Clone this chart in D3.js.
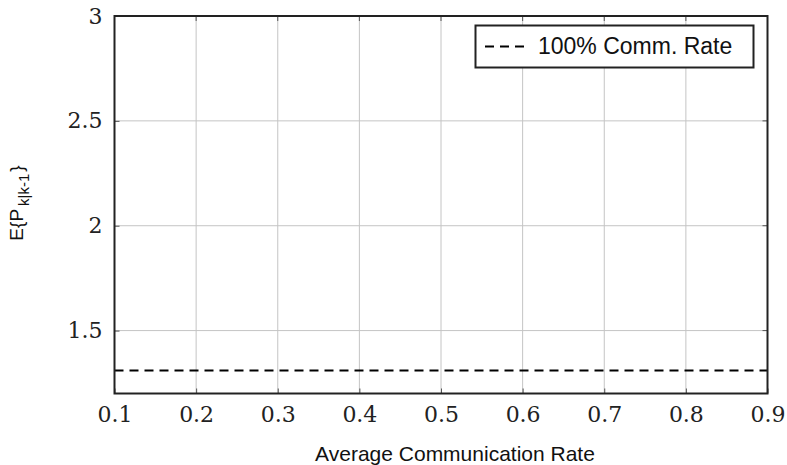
<!DOCTYPE html>
<html>
<head>
<meta charset="utf-8">
<script src="https://cdn.jsdelivr.net/npm/d3@7"></script>
<style>
  body { margin: 0; background: #fff; }
  .tick text { font-family: "DejaVu Serif", serif; }
</style>
</head>
<body>
<div id="chart"></div>
<script>
// data
const rates = [0.1, 0.9];
const fullCommValue = [1.31, 1.31];
const xTicks = [0.1, 0.2, 0.3, 0.4, 0.5, 0.6, 0.7, 0.8, 0.9];
const yTicks = [1.5, 2, 2.5, 3];
const legendLabel = "100% Comm. Rate";

const width = 787, height = 465;
const margin = { top: 16, right: 19.5, bottom: 71.5, left: 114.5 };
const w = width - margin.left - margin.right;
const h = height - margin.top - margin.bottom;

const svg = d3.select("#chart").append("svg")
  .attr("width", width)
  .attr("height", height);

const g = svg.append("g")
  .attr("transform", "translate(" + margin.left + "," + margin.top + ")");

const x = d3.scaleLinear().domain([0.1, 0.9]).range([0, w]);
const y = d3.scaleLinear().domain([1.2, 3]).range([h, 0]);

// grid
g.selectAll(".vgrid").data(xTicks.slice(1, -1)).enter().append("line")
  .attr("x1", d => x(d)).attr("x2", d => x(d))
  .attr("y1", 0).attr("y2", h)
  .attr("stroke", "#c4c4c4").attr("stroke-width", 1);
g.selectAll(".hgrid").data(yTicks.slice(0, -1)).enter().append("line")
  .attr("x1", 0).attr("x2", w)
  .attr("y1", d => y(d)).attr("y2", d => y(d))
  .attr("stroke", "#c4c4c4").attr("stroke-width", 1);

// axes (labels only, ticks drawn inside)
const xAxis = g.append("g")
  .attr("transform", "translate(0," + h + ")")
  .call(d3.axisBottom(x).tickValues(xTicks).tickSize(-5).tickPadding(13).tickFormat(d3.format(".1f")));
const yAxis = g.append("g")
  .call(d3.axisLeft(y).tickValues(yTicks).tickSize(-5).tickPadding(12).tickFormat(d => d));
[xAxis, yAxis].forEach(a => {
  a.select(".domain").remove();
  a.selectAll(".tick line").attr("stroke", "#555");
  a.selectAll(".tick text").attr("font-size", 22).attr("fill", "#222");
});
xAxis.selectAll(".tick text").attr("dy", "0.71em");
// top ticks
g.selectAll(".ttick").data(xTicks).enter().append("line")
  .attr("x1", d => x(d)).attr("x2", d => x(d))
  .attr("y1", 0).attr("y2", 5).attr("stroke", "#555");
g.selectAll(".rtick").data(yTicks).enter().append("line")
  .attr("x1", w).attr("x2", w - 5)
  .attr("y1", d => y(d)).attr("y2", d => y(d)).attr("stroke", "#555");

// dashed series
const line = d3.line().x(d => x(d[0])).y(d => y(d[1]));
g.append("path")
  .datum(rates.map((r, i) => [r, fullCommValue[i]]))
  .attr("d", line)
  .attr("fill", "none")
  .attr("stroke", "#000")
  .attr("stroke-width", 2)
  .attr("stroke-dasharray", "9,6");

// frame
g.append("rect")
  .attr("x", 0).attr("y", 0).attr("width", w).attr("height", h)
  .attr("fill", "none").attr("stroke", "#222").attr("stroke-width", 2);

// legend
const lg = svg.append("g");
lg.append("rect")
  .attr("x", 475.5).attr("y", 25.5).attr("width", 278).attr("height", 42)
  .attr("fill", "#fff").attr("stroke", "#222").attr("stroke-width", 2);
lg.append("line")
  .attr("x1", 485).attr("x2", 524).attr("y1", 46.5).attr("y2", 46.5)
  .attr("stroke", "#000").attr("stroke-width", 2).attr("stroke-dasharray", "9,6");
lg.append("text")
  .attr("x", 538).attr("y", 53.5)
  .attr("font-family", "Liberation Sans, Arial, sans-serif")
  .attr("font-size", 23)
  .attr("fill", "#111")
  .text(legendLabel);

// axis labels
svg.append("text")
  .attr("x", margin.left + w / 2 + 14).attr("y", 461)
  .attr("text-anchor", "middle")
  .attr("font-family", "Liberation Sans, Arial, sans-serif")
  .attr("font-size", 21)
  .attr("fill", "#111")
  .text("Average Communication Rate");

const yl = svg.append("text")
  .attr("transform", "translate(23,203) rotate(-90)")
  .attr("text-anchor", "middle")
  .attr("font-family", "Liberation Sans, Arial, sans-serif")
  .attr("font-size", 19)
  .attr("fill", "#111");
yl.append("tspan").text("E{P");
yl.append("tspan").attr("font-size", 15).attr("dx", 3).attr("dy", 6).text("k|k-1");
yl.append("tspan").attr("dx", 2).attr("dy", -6).text("}");
</script>
</body>
</html>
